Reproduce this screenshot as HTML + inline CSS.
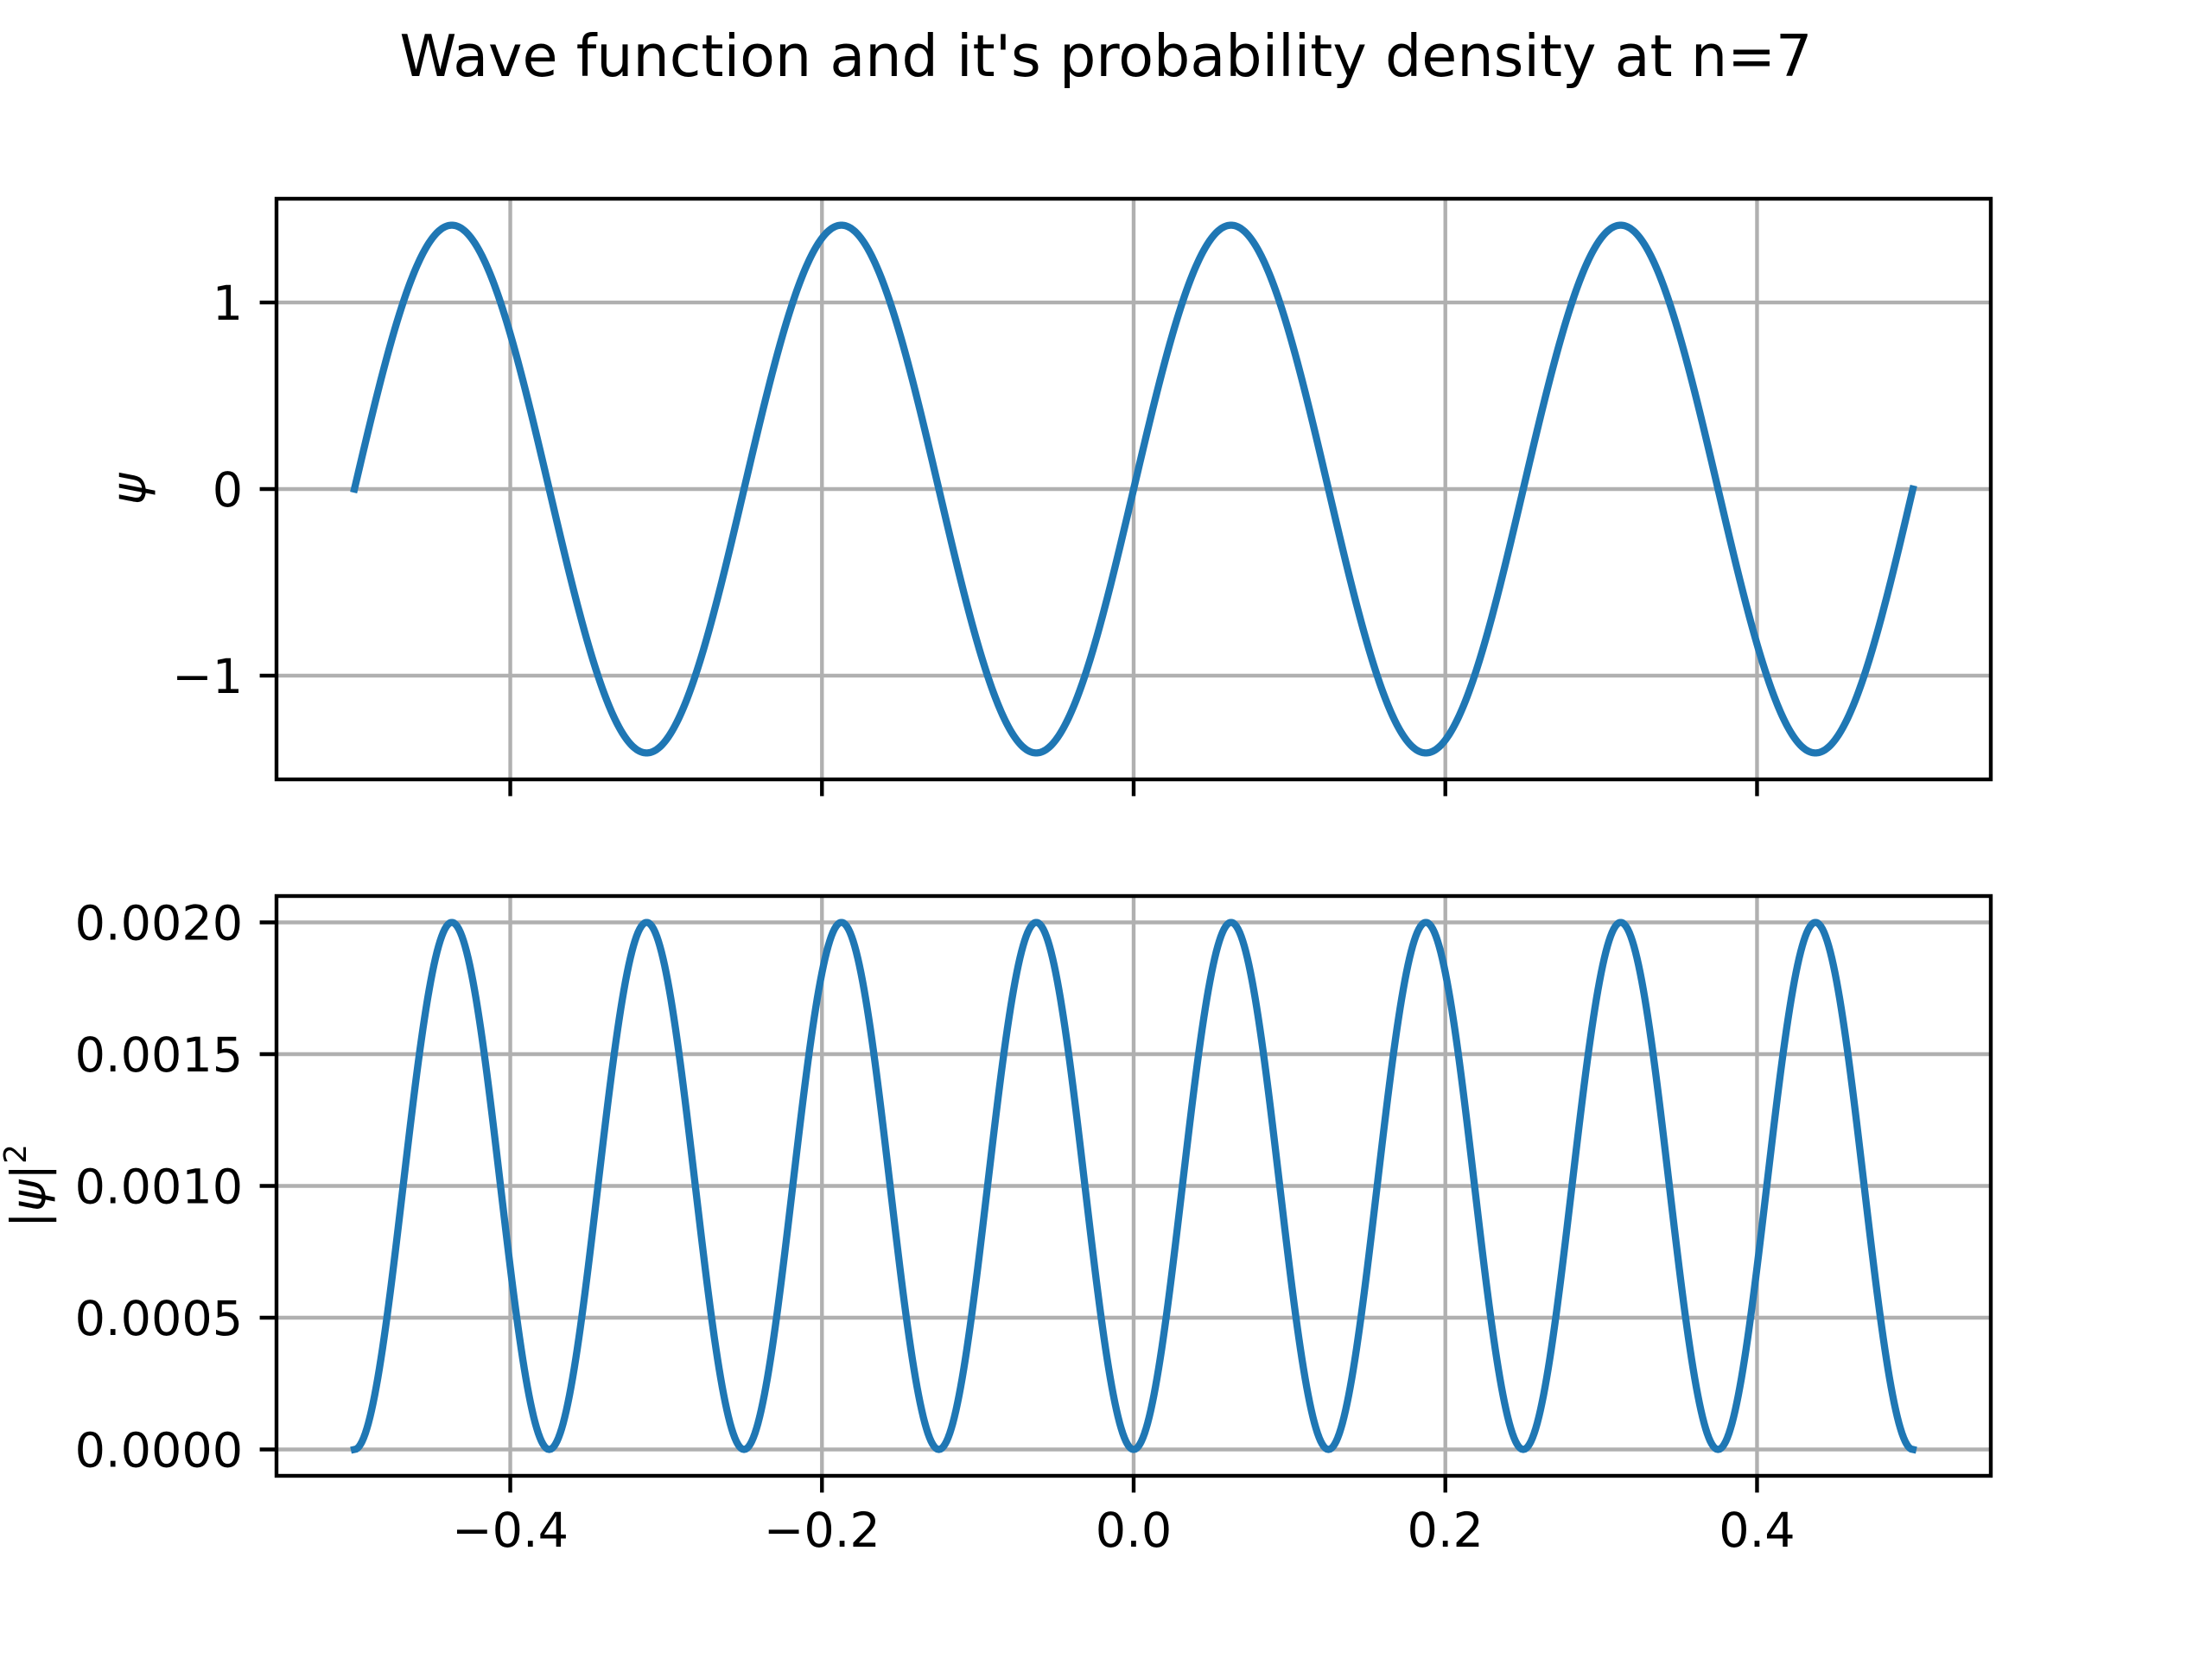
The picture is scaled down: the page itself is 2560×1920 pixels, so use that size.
<!DOCTYPE html>
<html><head><meta charset="utf-8"><style>
body{margin:0;background:#fff;}
svg{display:block;font-family:"DejaVu Sans","Liberation Sans",sans-serif;}
</style></head><body>
<svg id="fig" width="2560" height="1920" viewBox="0 0 2560 1920">
<rect width="2560" height="1920" fill="#fff"/>
<text x="1280" y="88" font-size="66.7" text-anchor="middle">Wave function and it's probability density at n=7</text>
<g id="top"></g>
<g id="bot"></g>
</svg>
<script>
const xTicks=[-0.4,-0.2,0.0,0.2,0.4];
const xTickLabels=["\u22120.4","\u22120.2","0.0","0.2","0.4"];
const psiTicks=[-1,0,1];
const psiTickLabels=["\u22121","0","1"];
const densTicks=[0,0.0005,0.001,0.0015,0.002];
const densTickLabels=["0.0000","0.0005","0.0010","0.0015","0.0020"];
const xDomain=[-0.5,0.5];
const psiAmplitude=[1.41421];
const densPeak=[0.002];
const halfWaves=[8];
const numSamples=[1000];

const NS="http://www.w3.org/2000/svg";
const L=320,R=2304;
const xs=v=>L+(v+0.55)/1.1*(R-L);
function mk(t,a,p){const e=document.createElementNS(NS,t);for(const k in a)e.setAttribute(k,a[k]);p.appendChild(e);return e;}
function axes(g,top,bot,ymin,ymax,ticks,labels,showX,name,series,ylabel,ylx){
  const ys=v=>bot-(v-ymin)/(ymax-ymin)*(bot-top);
  xTicks.forEach((t,i)=>{
    const l=mk('line',{x1:xs(t),x2:xs(t),y1:top,y2:bot,stroke:'#b0b0b0','stroke-width':4.4},g);
    
    
    const tk=mk('line',{x1:xs(t),x2:xs(t),y1:bot,y2:bot+19.4,stroke:'#000','stroke-width':4.4},g);
    
    
    if(showX){const tx=mk('text',{x:xs(t),y:bot+82,'font-size':55.6,'text-anchor':'middle'},g);tx.textContent=labels.x[i];
      
      }
  });
  ticks.forEach((t,i)=>{
    const l=mk('line',{x1:L,x2:R,y1:ys(t),y2:ys(t),stroke:'#b0b0b0','stroke-width':4.4},g);
    
    
    const tk=mk('line',{x1:L-19.4,x2:L,y1:ys(t),y2:ys(t),stroke:'#000','stroke-width':4.4},g);
    
    
    const tx=mk('text',{x:L-38.9,y:ys(t)+20,'font-size':55.6,'text-anchor':'end'},g);tx.textContent=labels.y[i];
    
    
  });
  const pts=series.map(p=>xs(p[0]).toFixed(2)+','+ys(p[1]).toFixed(2)).join(' ');
  const pl=mk('polyline',{points:pts,fill:'none',stroke:'#1f77b4','stroke-width':8.3,'stroke-linejoin':'round','stroke-linecap':'square'},g);
  
  
  const fr=mk('rect',{x:L,y:top,width:R-L,height:bot-top,fill:'none',stroke:'#000','stroke-width':4.4},g);
  
  
  const yl=mk('text',{x:0,y:0,'font-size':55.6,'text-anchor':'middle',transform:`translate(${ylx},${(top+bot)/2}) rotate(-90)`},g);
  yl.innerHTML=ylabel;
  
  
}
const N=numSamples[0],psi=[],dens=[];
for(let i=0;i<=N;i++){
  const x=xDomain[0]+(xDomain[1]-xDomain[0])*i/N;
  const s=Math.sin(halfWaves[0]*Math.PI*(x-xDomain[0])/(xDomain[1]-xDomain[0]));
  psi.push([x,psiAmplitude[0]*s]);
  dens.push([x,densPeak[0]*s*s]);
}
axes(document.getElementById('top'),230,902,-1.556,1.556,psiTicks,{x:xTickLabels,y:psiTickLabels},false,'psi-line',psi,'<tspan font-style="italic">ψ</tspan>',168);
axes(document.getElementById('bot'),1037,1708,-0.0001,0.0021,densTicks,{x:xTickLabels,y:densTickLabels},true,'density-line',dens,'|<tspan font-style="italic">ψ</tspan>|<tspan font-size="36" dy="-22">2</tspan>',52);
</script>
</body></html>
